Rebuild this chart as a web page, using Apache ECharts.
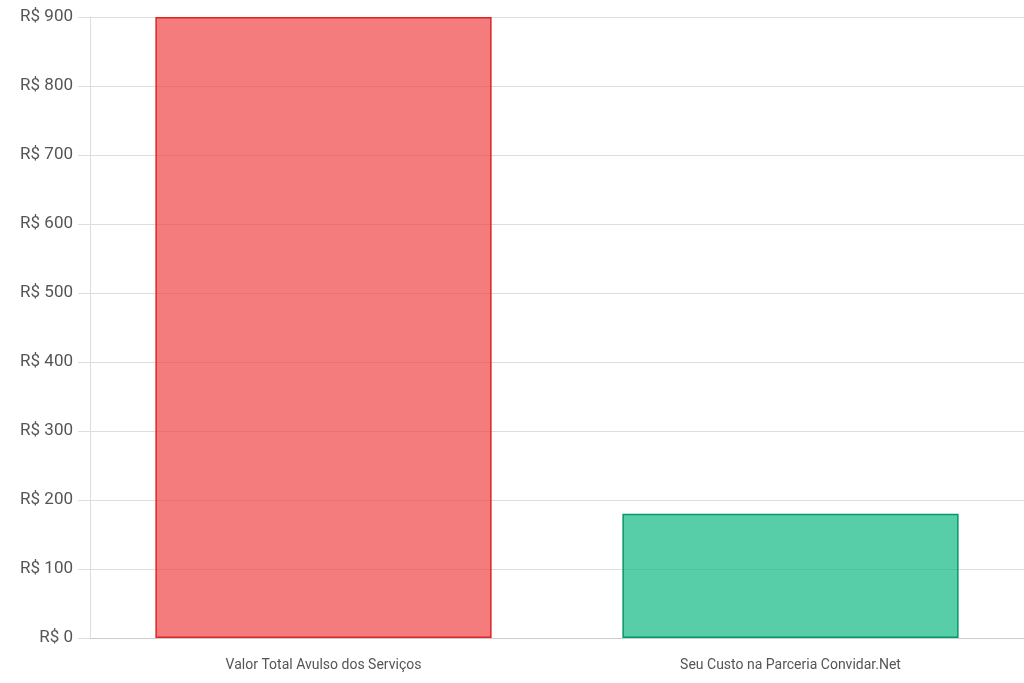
<!DOCTYPE html>
<html><head><meta charset="utf-8">
<script src="https://cdn.jsdelivr.net/npm/echarts@6/dist/echarts.min.js"></script>
<style>html,body{margin:0;padding:0;background:#fff}#c{width:1024px;height:683px}</style>
</head><body><div id="c"></div>
<script>
const categories = ["Valor Total Avulso dos Serviços", "Seu Custo na Parceria Convidar.Net"];
const values = [900, 180];
const fills = ["rgba(239,68,68,0.7)", "rgba(16,185,129,0.7)"];
const borders = ["#dc2626", "#059669"];
const chart = echarts.init(document.getElementById('c'));
chart.setOption({
  animation: false,
  grid: {left: 90, right: 0, top: 17, bottom: 45, containLabel: false},
  xAxis: {type: 'category', data: categories,
    axisLine: {lineStyle: {color: '#ccc'}}, axisTick: {show: false},
    axisLabel: {color: '#555', fontSize: 14, fontFamily: 'Roboto', margin: 20}},
  yAxis: {type: 'value', min: 0, max: 900, interval: 100,
    axisLine: {show: true, lineStyle: {color: '#ddd'}},
    axisTick: {show: true, length: 12, lineStyle: {color: '#ddd'}},
    splitLine: {lineStyle: {color: '#ddd'}},
    axisLabel: {color: '#555', fontSize: 17, fontFamily: 'Roboto', margin: 17, formatter: v => 'R$ ' + v}},
  series: [{type: 'bar', barWidth: '72%',
    data: values.map((v, i) => ({value: v, itemStyle: {color: fills[i], borderColor: borders[i], borderWidth: 1.5}}))}]
});
</script></body></html>
